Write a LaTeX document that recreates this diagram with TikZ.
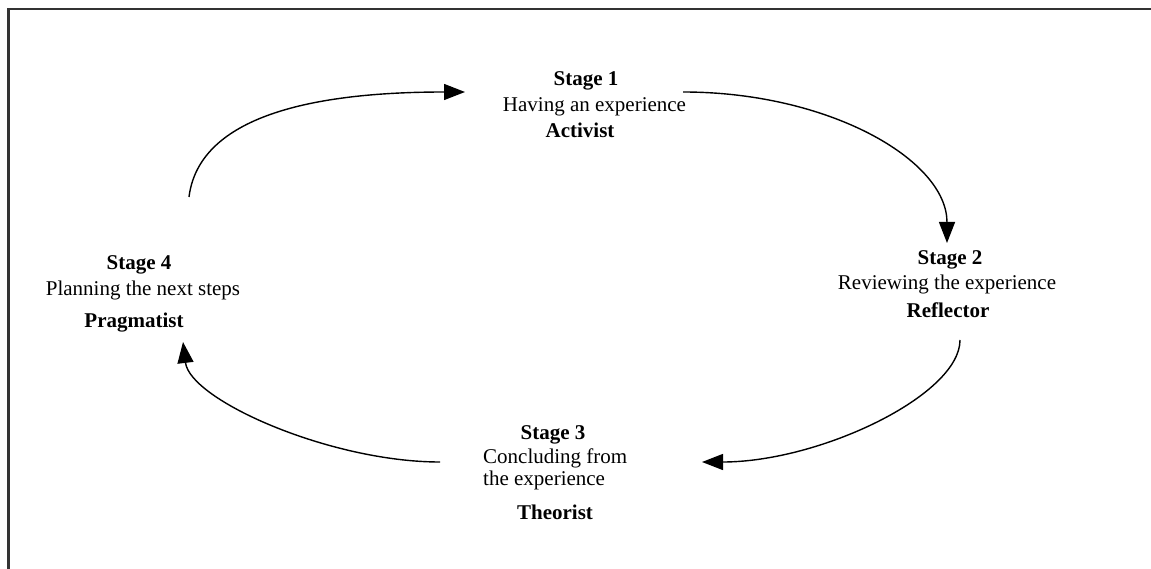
\documentclass[tikz,border=0pt]{standalone}
\usepackage{fontspec}
\setmainfont{Liberation Serif}
\usetikzlibrary{arrows.meta}
\begin{document}
\begin{tikzpicture}[x=1pt,y=-1pt,
  txt/.style={anchor=base,inner sep=0pt,font=\fontsize{21}{26}\selectfont},
  ttl/.style={txt,font=\fontsize{21}{26}\selectfont\bfseries},
  lft/.style={txt,anchor=base west},
  cycle/.style={line width=1.4pt,-{Triangle[length=21pt,width=16pt]}},
  frameline/.style={line width=2.4pt,draw=black!80}]
\useasboundingbox (0,0) rectangle (1151,569);
% outer frame (open at right and bottom)
\draw[frameline] (8.3,569) -- (8.3,8.8) -- (1151,8.8);

% Stage 1
\node[ttl] (s1t) at (586,86) {Stage 1};
\node[txt] (s1d) at (594.5,111.5) {Having an experience};
\node[ttl] (s1r) at (580,138) {Activist};
% Stage 2
\node[ttl] (s2t) at (950,265) {Stage 2};
\node[txt] (s2d) at (947,290) {Reviewing the experience};
\node[ttl] (s2r) at (948,317) {Reflector};
% Stage 3
\node[ttl] (s3t) at (553,439) {Stage 3};
\node[lft] (s3a) at (483,463) {Concluding from};
\node[lft] (s3b) at (483,485.5) {the experience};
\node[ttl] (s3r) at (555,519) {Theorist};
% Stage 4
\node[ttl] (s4t) at (139,270) {Stage 4};
\node[txt] (s4d) at (143,295) {Planning the next steps};
\node[ttl] (s4r) at (134,327) {Pragmatist};

% arrow end points
\coordinate (a1s) at (189,197);
\coordinate (a1e) at (465,92);
\coordinate (a2s) at (683,92);
\coordinate (a2e) at (947,243);
\coordinate (a3s) at (960,340);
\coordinate (a3e) at (702,462);
\coordinate (a4s) at (440,462);
\coordinate (a4e) at (183,342);

% the learning cycle
\draw[cycle] (a1s) .. controls (198,125) and (290,92) .. (a1e);
\draw[cycle] (a2s) .. controls (829,92) and (947,160) .. (a2e);
\draw[cycle] (a3s) .. controls (960,395) and (820,462) .. (a3e);
\draw[cycle] (a4s) .. controls (330,462) and (190,400) .. (a4e);
\end{tikzpicture}
\end{document}
